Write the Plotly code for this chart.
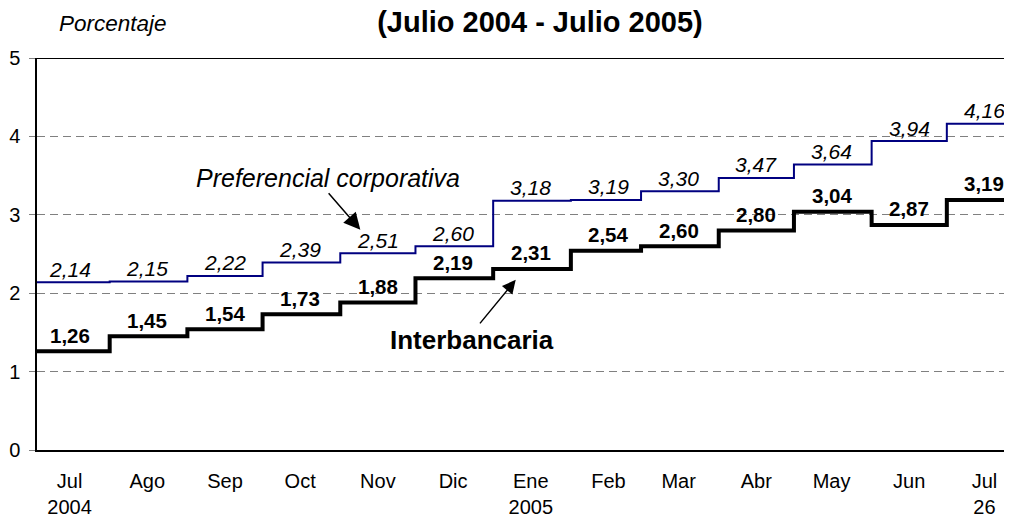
import plotly.graph_objects as go
import pandas as pd

# ---- data ----
month_starts = ["2004-07-01", "2004-08-01", "2004-09-01", "2004-10-01", "2004-11-01",
                "2004-12-01", "2005-01-01", "2005-02-01", "2005-03-01", "2005-04-01",
                "2005-05-01", "2005-06-01", "2005-07-01"]
end_date = "2005-07-26"
tick_labels = ["Jul<br>2004", "Ago", "Sep", "Oct", "Nov", "Dic", "Ene<br>2005",
               "Feb", "Mar", "Abr", "May", "Jun", "Jul<br>26"]
interbancaria = [1.26, 1.45, 1.54, 1.73, 1.88, 2.19, 2.31, 2.54, 2.60, 2.80, 3.04, 2.87, 3.19]
preferencial = [2.14, 2.15, 2.22, 2.39, 2.51, 2.60, 3.18, 3.19, 3.30, 3.47, 3.64, 3.94, 4.16]

FONT = "Liberation Sans, Arial, sans-serif"

# the page body adds an 8px offset, so the figure is 8px smaller
W, H = 1004, 509

starts = pd.to_datetime(month_starts)
x_steps = list(starts) + [pd.Timestamp(end_date)]
mid = [d + pd.Timedelta(days=15) for d in starts]


def fmt(v):
    return f"{v:.2f}".replace(".", ",")


fig = go.Figure()
fig.add_trace(go.Scatter(x=x_steps, y=preferencial + [preferencial[-1]], mode="lines",
                         line=dict(color="#000080", width=2, shape="hv"),
                         name="Preferencial corporativa", showlegend=False, hoverinfo="skip"))
fig.add_trace(go.Scatter(x=x_steps, y=interbancaria + [interbancaria[-1]], mode="lines",
                         line=dict(color="#000000", width=4, shape="hv"),
                         name="Interbancaria", showlegend=False, hoverinfo="skip"))

annotations = []
for d, v in zip(mid, preferencial):
    annotations.append(dict(x=d, y=v, xref="x", yref="y", text="<i>" + fmt(v) + "</i>",
                            showarrow=False, yshift=13, yanchor="middle", xanchor="center",
                            font=dict(family=FONT, size=21, color="black")))
for d, v in zip(mid, interbancaria):
    annotations.append(dict(x=d, y=v, xref="x", yref="y", text="<b>" + fmt(v) + "</b>",
                            showarrow=False, yshift=16, yanchor="middle", xanchor="center",
                            font=dict(family=FONT, size=20.5, color="black")))

# series name callouts with arrows
annotations.append(dict(x=0.298, y=0.695, xref="paper", yref="paper",
                        xanchor="center", yanchor="middle",
                        text="<i>Preferencial corporativa</i>", showarrow=False,
                        font=dict(family=FONT, size=25, color="black")))
annotations.append(dict(x=pd.Timestamp("2004-11-09"), y=2.81, xref="x", yref="y", text="",
                        showarrow=True, ax=-33, ay=-38, arrowhead=2, arrowsize=2.2,
                        arrowwidth=1.5, arrowcolor="black"))
annotations.append(dict(x=0.446, y=0.28, xref="paper", yref="paper",
                        xanchor="center", yanchor="middle",
                        text="<b>Interbancaria</b>", showarrow=False,
                        font=dict(family=FONT, size=26, color="black")))
annotations.append(dict(x=pd.Timestamp("2005-01-10"), y=2.17, xref="x", yref="y", text="",
                        showarrow=True, ax=-37, ay=45, arrowhead=2, arrowsize=1.8,
                        arrowwidth=1.5, arrowcolor="black"))
annotations.append(dict(x=0.078, y=1.087, xref="paper", yref="paper",
                        xanchor="center", yanchor="middle",
                        text="<i>Porcentaje</i>", showarrow=False,
                        font=dict(family=FONT, size=22.5, color="black")))

fig.update_layout(
    width=W, height=H,
    margin=dict(l=29, r=0, t=50, b=67),
    paper_bgcolor="white", plot_bgcolor="white",
    title=dict(text="<b>(Julio 2004 - Julio 2005)</b>", x=532 / W, xanchor="center",
               y=1 - 14 / H, yanchor="middle", xref="container", yref="container",
               font=dict(family=FONT, size=29, color="black")),
    font=dict(family=FONT, color="black"),
    annotations=annotations,
    shapes=[dict(type="line", xref="paper", yref="y", x0=0, x1=1, y0=5, y1=5,
                 line=dict(color="black", width=2))],
)
fig.update_xaxes(
    range=[pd.Timestamp("2004-07-03"), pd.Timestamp("2005-07-27")],
    tickvals=mid, ticktext=tick_labels,
    showgrid=False, showline=True, linecolor="black", linewidth=2,
    ticks="outside", ticklen=12, tickcolor="rgba(0,0,0,0)",
    tickfont=dict(family=FONT, size=20, color="black"), zeroline=False,
)
fig.update_yaxes(
    range=[0, 5], tickvals=[0, 1, 2, 3, 4, 5],
    showgrid=True, gridcolor="#808080", gridwidth=1, griddash="8px,5px",
    showline=True, linecolor="black", linewidth=1.5,
    ticks="outside", ticklen=6, tickcolor="#808080", ticklabelstandoff=5,
    tickfont=dict(family=FONT, size=20, color="black"), zeroline=False,
)

fig.write_html("out.html")
